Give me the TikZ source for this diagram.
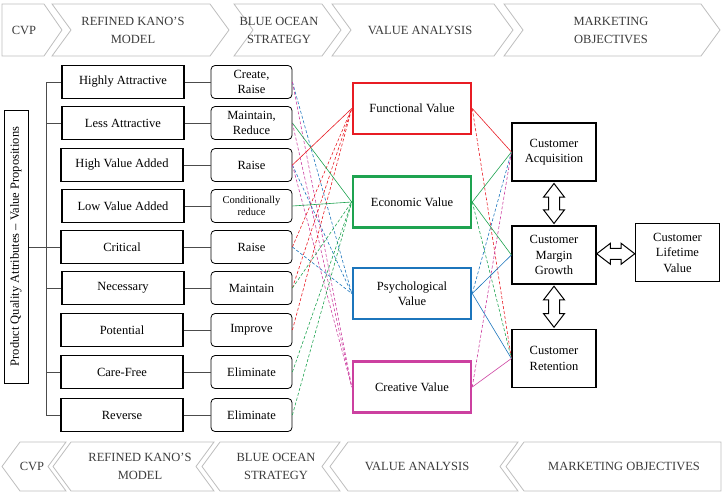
\documentclass[tikz,border=0pt]{standalone}
\usepackage{fontspec}
\setmainfont{Liberation Serif}
\usepackage{tikz}
\usetikzlibrary{calc, shapes.arrows}
\definecolor{valred}{RGB}{232,28,36}
\definecolor{valgreen}{RGB}{30,163,80}
\definecolor{valblue}{RGB}{28,117,188}
\definecolor{valmag}{RGB}{204,64,160}
\definecolor{chevline}{RGB}{190,190,190}
\definecolor{chevtxt}{RGB}{60,60,60}

\begin{document}
\begin{tikzpicture}[x=1pt, y=-1pt, font=\fontsize{12.5}{14.5}\selectfont,
    chev/.style={draw=chevline, line width=0.8pt, fill=white},
    chevtext/.style={text=chevtxt, align=center, font=\fontsize{12.5}{18}\selectfont},
    kano/.style={draw, line width=1.2pt, minimum width=122pt, minimum height=33pt, inner sep=1pt},
    ocean/.style={draw, line width=0.8pt, rounded corners=4pt, minimum width=81pt, minimum height=33pt, inner sep=1pt, align=center},
    valbox/.style={line width=2.5pt, minimum width=118pt, minimum height=51pt, align=center, font=\fontsize{12.5}{15.3}\selectfont},
    goal/.style={draw, line width=1.2pt, minimum width=84pt, minimum height=58pt, align=center, font=\fontsize{12.5}{15.5}\selectfont},
    tree/.style={line width=0.8pt, black!70},
    link/.style={dash pattern=on 3pt off 2pt, line width=0.6pt},
    dblarrow/.style={double arrow, draw, line width=1pt, fill=white, inner sep=5pt,
        double arrow head extend=5pt, double arrow tip angle=75}]
    \useasboundingbox (0,0) rectangle (725,493);

    % Top banner
    \draw[chev] (2,4) -- (44,4) -- (62,30) -- (44,56) -- (2,56) -- cycle;
    \node[chevtext] (tc0) at (24,30) {CVP};
    \foreach \xa/\xb/\xt/\txt [count=\n] in {52/210/133/{REFINED KANO’S\\MODEL}, 234/322/279/{BLUE OCEAN\\STRATEGY}, 332/494/420/{VALUE ANALYSIS}, 504/701/611/{MARKETING\\OBJECTIVES}} {
        \draw[chev] (\xa,4) -- (\xb,4) -- (\xb+19,30) -- (\xb,56) -- (\xa,56) -- (\xa+19,30) -- cycle;
        \node[chevtext] (tc\n) at (\xt,30) {\txt};
    }

    % Bottom banner
    \foreach \xa/\xb/\xt/\txt [count=\n] in {2/66/32/{CVP}, 53/214/140/{REFINED KANO’S\\MODEL}, 202/340/276/{BLUE OCEAN\\STRATEGY}, 330/518/417/{VALUE ANALYSIS}} {
        \draw[chev] (\xa,466.5) -- (\xa+18,442) -- (\xb,442) -- (\xb-18,466.5) -- (\xb,491) -- (\xa+18,491) -- cycle;
        \node[chevtext] (bc\n) at (\xt,466.5) {\txt};
    }
    \draw[chev] (506,466.5) -- (524,442) -- (721,442) -- (721,491) -- (524,491) -- cycle;
    \node[chevtext] (bc5) at (624,466.5) {MARKETING OBJECTIVES};

    % Attributes
    \node[draw, line width=1pt, rotate=90, minimum width=273pt, minimum height=24pt, inner sep=1pt] (pqa) at (16,246.5) {Product Quality Attributes – Value Propositions};

    % Refined Kano's model
    \node[kano] (k0) at (123,82) {Highly Attractive};
    \node[kano] (k1) at (123,123) {Less Attractive};
    \node[kano] (k2) at (122,165) {High Value Added};
    \node[kano] (k3) at (123,206) {Low Value Added};
    \node[kano] (k4) at (122,247) {Critical};
    \node[kano] (k5) at (123,288) {Necessary};
    \node[kano] (k6) at (122,330) {Potential};
    \node[kano] (k7) at (122,372) {Care-Free};
    \node[kano] (k8) at (122,415) {Reverse};

    % Blue ocean strategy
    \node[ocean] (b0) at (251.5,82) {Create,\\Raise};
    \node[ocean] (b1) at (251.5,123) {Maintain,\\Reduce};
    \node[ocean] (b2) at (251.5,165) {Raise};
    \node[ocean, font=\fontsize{10.5}{12.5}\selectfont] (b3) at (251.5,206) {Conditionally\\reduce};
    \node[ocean] (b4) at (251.5,247) {Raise};
    \node[ocean] (b5) at (251.5,288) {Maintain};
    \node[ocean] (b6) at (251.5,330) {Improve};
    \node[ocean] (b7) at (251.5,372) {Eliminate};
    \node[ocean] (b8) at (251.5,415) {Eliminate};

    % Value analysis
    \node[valbox, draw=valred] (fv) at (412,108.5) {Functional Value};
    \node[valbox, draw=valgreen] (ev) at (412,202) {Economic Value};
    \node[valbox, draw=valblue] (pv) at (412,293.5) {Psychological\\Value};
    \node[valbox, draw=valmag] (cv) at (412,387) {Creative Value};

    % Marketing objectives
    \node[goal] (acq) at (554,152) {Customer\\Acquisition};
    \node[goal] (mg) at (554,255) {Customer\\Margin\\Growth};
    \node[goal] (ret) at (554,358.5) {Customer\\Retention};
    \node[goal] (clv) at (677.5,252.5) {Customer\\Lifetime\\Value};

    \node[dblarrow, shape border rotate=90, minimum height=40pt] (ar1) at ($(acq.south)!0.5!(mg.north)$) {};
    \node[dblarrow, shape border rotate=90, minimum height=41pt] (ar2) at ($(mg.south)!0.5!(ret.north)$) {};
    \node[dblarrow, minimum height=38pt] (ar3) at ($(mg.east)!0.5!(clv.west)$) {};

    % Tree
    \coordinate (bt) at (46,82);
    \coordinate (bb) at (46,415);
    \draw[tree] (bt) -- (bb);
    \foreach \k in {k0,k1,k5,k7,k8}
        \draw[tree] (bt |- \k) -- (\k.west);
    \draw[tree] (pqa.south |- k4) -- (k4.west);
    \foreach \i in {0,...,8}
        \draw[tree] (k\i.east) -- (b\i.west);

    % Strategy to value
    \foreach \s/\t/\c in {b0/pv/valblue, b0/cv/valmag, b1/cv/valmag, b2/pv/valblue, b2/cv/valmag,
        b4/fv/valred, b4/pv/valblue, b5/fv/valred, b5/ev/valgreen, b6/fv/valred, b7/ev/valgreen, b8/ev/valgreen}
        \draw[link, \c] (\s.east) -- (\t.west);
    \foreach \s/\t/\c in {b1/ev/valgreen, b2/fv/valred, b3/ev/valgreen}
        \draw[line width=0.6pt, \c] (\s.east) -- (\t.west);

    % Value to objectives
    \foreach \s/\t/\c in {fv/ret/valred, ev/ret/valgreen, pv/acq/valblue, cv/acq/valmag}
        \draw[link, \c] (\s.east) -- (\t.west);
    \foreach \s/\t/\c in {fv/acq/valred, ev/acq/valgreen, ev/mg/valgreen, pv/mg/valblue, pv/ret/valblue, cv/ret/valmag}
        \draw[line width=0.6pt, \c] (\s.east) -- (\t.west);
\end{tikzpicture}
\end{document}
